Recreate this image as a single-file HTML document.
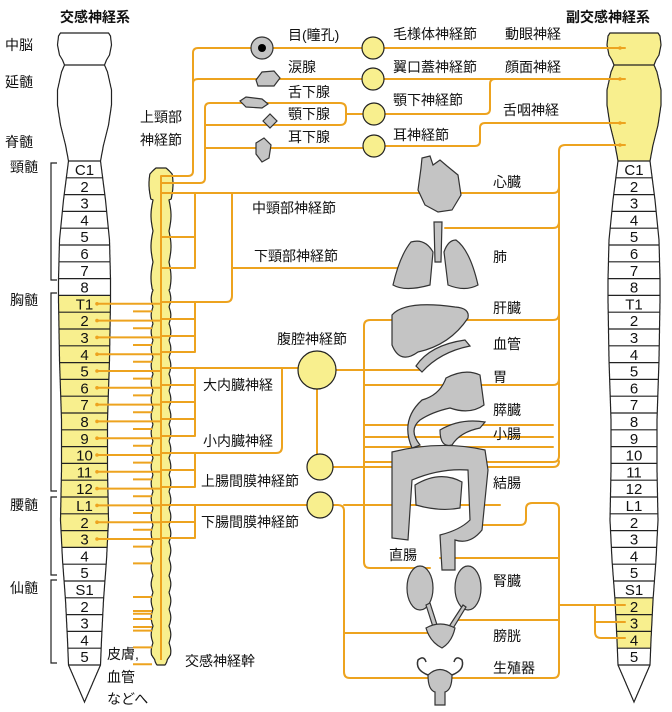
<!DOCTYPE html>
<html><head><meta charset="utf-8">
<style>
html,body{margin:0;padding:0;background:#fff;}
svg{display:block;}
text{font-family:"Liberation Sans","Noto Sans CJK JP",sans-serif;fill:#111;}
.l{font-size:14px;}
.o{fill:none;stroke:#eda31f;stroke-width:2;stroke-linejoin:round;stroke-linecap:round;}
.g{fill:#c4c4c4;stroke:#333;stroke-width:1.2;}
.gc{fill:#f8ef8e;stroke:#222;stroke-width:1.2;}
</style></head><body>
<svg id="s" width="672" height="712" viewBox="0 0 672 712" xmlns="http://www.w3.org/2000/svg">
<rect width="672" height="712" fill="#fff"/>
<g id="spines"></g>
<g id="trunk"></g>
<g class="o">
<path d="M161 176 H188 Q193 176 193 171 V53 Q193 48 198 48 H251"/>
<path d="M273 48 H362 M384 48 H625"/>
<path d="M193 83 Q193 79 198 79 H362 M384 79 H625"/>
<path d="M161 183 H200 Q205 183 205 178 V108 Q205 103 210 103 H340 Q346 103 346 109 V119 Q346 125 340 125 H205"/>
<path d="M205 148 H362 M385 146 H475 Q480 146 480 141 V128 Q480 123 485 123 H625"/>
<path d="M346 114 H362 M385 114 H485 Q490 114 490 109 V84 Q490 79 495 79"/>
<path d="M625 145 H565 Q559 145 559 151 V456 Q559 462 553 462 H364"/>
<path d="M161 193 H553 Q559 193 559 187"/>
<path d="M445 228 H553 Q559 228 559 222"/>
<path d="M161 237 H195 M161 268 H195 M195 193 V268"/>
<path d="M232 193 V296 Q232 302 226 302 H161 M232 268 H405"/>
<path d="M161 319 H195 M161 336 H195 M161 352 H195 M195 302 V352"/>
<path d="M161 368 H298 M161 385 H195 M161 402 H195 M161 419 H195 M161 436 H195 M195 368 V436"/>
<path d="M161 453 H276 Q282 453 282 447 V368"/>
<path d="M161 470 H195 M161 487 H195 M195 453 V487"/>
<path d="M161 505 H307 M161 522 H195 M161 538 H195 M195 505 V538"/>
<path d="M317 389 V454 M336 370 H420 M333 467 H553 Q559 467 559 461"/>
<path d="M370 320 H553 Q559 320 559 314 M364 326 Q364 320 370 320"/>
<path d="M364 326 V562 Q364 568 370 568 H430"/>
<path d="M364 385 H553 Q559 385 559 379 M364 425 H553 M364 437 H553 M364 447 H553"/>
<path d="M333 505 H338 Q344 505 344 511 V672 Q344 678 350 678 H553 Q559 678 559 672 V509 Q559 503 553 503"/>
<path d="M344 505 H500 M553 503 H532 Q526 503 526 509 V519 Q526 525 520 525 H480"/>
<path d="M559 558 H440 M559 620 H455 M344 633 H440"/>
<path d="M559 605 H625 M595 605 V632 Q595 638 601 638 H625 M595 622 H625"/>
</g>
<g class="gc">
<circle cx="373" cy="48" r="11"/><circle cx="373" cy="79" r="11"/><circle cx="374" cy="114" r="11"/><circle cx="374" cy="146" r="11"/>
<circle cx="317" cy="370" r="19"/><circle cx="320" cy="467" r="13"/><circle cx="320" cy="505" r="13"/>
</g>
<g class="g">
<circle cx="262" cy="48" r="11"/>
<path d="M256 80 L262 72 L274 71 L280 78 L274 86 L258 86 Z"/>
<path d="M240 101 L246 97 L262 99 L268 104 L262 108 L246 107 Z"/>
<path d="M263 121 L270 114 L277 121 L270 128 Z"/>
<path d="M256 143 L264 138 L271 145 L269 158 L262 162 L256 154 Z"/>
<path d="M421 168 L422 158 L430 156 L433 165 L440 160 L447 166 L458 175 L461 195 L452 210 L438 212 L425 205 L418 190 Z"/>
<path d="M411 242 Q400 255 393 285 Q405 292 430 285 L433 252 Q425 238 411 242 Z"/>
<path d="M456 240 Q470 250 478 285 Q465 292 448 285 L444 252 Q448 240 456 240 Z"/>
<path d="M434 222 L442 222 L441 262 L435 262 Z"/>
<path d="M392 315 Q405 300 455 307 Q470 308 468 318 Q450 345 418 352 Q400 365 392 345 Z"/>
<path d="M416 366 Q430 345 465 340 L470 346 Q440 352 422 372 Z"/>
<path d="M446 378 Q465 368 480 375 L484 405 Q470 415 450 408 Q432 412 420 420 Q408 430 420 445 L412 448 Q400 420 422 400 Q440 395 446 378 Z"/>
<path d="M440 430 Q460 418 485 422 L480 428 Q460 432 452 445 Q440 448 440 430 Z"/>
<path d="M392 452 Q440 440 485 450 L488 470 L482 530 Q470 545 455 540 L455 570 L442 570 L440 535 Q460 530 470 520 L468 470 Q440 468 412 480 L408 540 L392 538 Z"/>
<path d="M415 485 Q440 470 462 482 L460 508 Q440 512 416 505 Z"/>
<ellipse cx="420" cy="588" rx="13" ry="22"/><ellipse cx="468" cy="588" rx="13" ry="22"/>
<path d="M426 605 L434 630 L438 628 L430 603 Z M463 605 L448 628 L452 630 L466 607 Z"/>
<path d="M426 628 Q440 620 455 628 Q452 642 442 648 Q430 642 426 628 Z"/>
<path d="M428 675 Q440 664 452 675 Q452 690 445 692 L445 705 L435 705 L435 692 Q428 690 428 675 Z"/>
</g>
<circle cx="262" cy="48" r="4" fill="#000"/>
<g fill="none" stroke="#333" stroke-width="1.5"><path d="M428 675 Q415 670 418 660 Q424 655 426 662"/><path d="M452 675 Q465 670 462 660 Q456 655 454 662"/></g>
<g class="l">
<text x="60" y="22" font-weight="bold">交感神経系</text>
<text x="566" y="22" font-weight="bold">副交感神経系</text>
<text x="5" y="50">中脳</text><text x="5" y="87">延髄</text><text x="5" y="147">脊髄</text>
<text x="10" y="172">頸髄</text><text x="10" y="305">胸髄</text><text x="10" y="510">腰髄</text><text x="10" y="593">仙髄</text>
<text x="140" y="122">上頸部</text><text x="140" y="145">神経節</text>
<text x="288" y="40">目(瞳孔)</text><text x="288" y="72">涙腺</text><text x="288" y="97">舌下腺</text><text x="288" y="119">顎下腺</text><text x="288" y="142">耳下腺</text>
<text x="393" y="39">毛様体神経節</text><text x="393" y="72">翼口蓋神経節</text><text x="393" y="105">顎下神経節</text><text x="393" y="140">耳神経節</text>
<text x="505" y="39">動眼神経</text><text x="505" y="72">顔面神経</text><text x="503" y="115">舌咽神経</text>
<text x="252" y="213">中頸部神経節</text><text x="254" y="261">下頸部神経節</text>
<text x="277" y="344">腹腔神経節</text><text x="203" y="390">大内臓神経</text><text x="203" y="446">小内臓神経</text>
<text x="201" y="486">上腸間膜神経節</text><text x="201" y="527">下腸間膜神経節</text>
<text x="185" y="666">交感神経幹</text>
<text x="107" y="659">皮膚,</text><text x="107" y="682">血管</text><text x="107" y="704">などへ</text>
<text x="493" y="187">心臓</text><text x="493" y="262">肺</text><text x="493" y="313">肝臓</text><text x="493" y="349">血管</text>
<text x="493" y="382">胃</text><text x="493" y="415">膵臓</text><text x="493" y="439">小腸</text><text x="493" y="488">結腸</text>
<text x="389" y="560">直腸</text><text x="493" y="586">腎臓</text><text x="493" y="641">膀胱</text><text x="493" y="673">生殖器</text>
</g>
</svg>
<script>
var NS="http://www.w3.org/2000/svg";
function el(t,a,p){var e=document.createElementNS(NS,t);for(var k in a)e.setAttribute(k,a[k]);p.appendChild(e);return e;}
var P=[[33,24],[36,26],[45,27],[55,25],[60,22],[65,20],[72,23],[90,27],[105,27],[125,24],[145,19],[161,16],[200,21],[240,25],[280,26],[300,26],[360,25],[420,23],[470,23],[520,24],[560,22],[600,19],[640,17],[665,16],[702,0]];
function hw(y){for(var i=0;i<P.length-1;i++){if(y>=P[i][0]&&y<=P[i+1][0]){var t=(y-P[i][0])/(P[i+1][0]-P[i][0]);return P[i][1]+(P[i+1][1]-P[i][1])*t;}}return 0;}
var sp=document.getElementById("spines");
var R=16.8,Y0=161;
var labs=["C1","2","3","4","5","6","7","8","T1","2","3","4","5","6","7","8","9","10","11","12","L1","2","3","4","5","S1","2","3","4","5"];
function spine(cx,yellowTop,yellowRows){
 var l=[],r=[];for(var y=33;y<=702;y+=1){l.push((cx-hw(y)).toFixed(1)+" "+y);r.unshift((cx+hw(y)).toFixed(1)+" "+y);}
 var d="M"+l.join(" L")+" L"+r.join(" L")+" Z";
 el("path",{d:d,fill:"#fff",stroke:"none"},sp);
 if(yellowTop){var l2=[],r2=[];for(var y=33;y<=161;y++){l2.push((cx-hw(y)).toFixed(1)+" "+y);r2.unshift((cx+hw(y)).toFixed(1)+" "+y);}
  el("path",{d:"M"+l2.join(" L")+" L"+r2.join(" L")+" Z",fill:"#f8ef8e"},sp);}
 yellowRows.forEach(function(i){var a=Y0+i*R,b=a+R;el("path",{d:"M"+(cx-hw(a))+" "+a+" L"+(cx+hw(a))+" "+a+" L"+(cx+hw(b))+" "+b+" L"+(cx-hw(b))+" "+b+" Z",fill:"#f8ef8e"},sp);});
 el("path",{d:d,fill:"none",stroke:"#222","stroke-width":1.2},sp);
 el("line",{x1:cx-hw(65),y1:65,x2:cx+hw(65),y2:65,stroke:"#222","stroke-width":1.2},sp);
 for(var i=0;i<=30;i++){var y=Y0+i*R;el("line",{x1:cx-hw(y),y1:y,x2:cx+hw(y),y2:y,stroke:"#222","stroke-width":1.2},sp);}
 for(var i=0;i<30;i++){var t=el("text",{x:cx,y:Y0+i*R+14,"text-anchor":"middle","font-size":"15"},sp);t.textContent=labs[i];}
}
var yl=[];for(var i=8;i<=22;i++)yl.push(i);
spine(84.5,false,yl);
spine(634,true,[26,27,28]);
[48,79,123,145].forEach(function(y){el("circle",{cx:620,cy:y,r:1.8,fill:"#eda31f"},sp);});
[[163,280],[293,491],[497,575],[580,663]].forEach(function(b){el("path",{d:"M57 "+b[0]+" H51 V"+b[1]+" H57",fill:"none",stroke:"#222","stroke-width":1.2},sp);});
var tr=document.getElementById("trunk");
var L=[],Rr=[];
for(var y=168;y<=665;y+=1){var w;
 if(y<200)w=10+Math.sin((y-168)/32*Math.PI)*2;
 else if(y<290)w=8+2*Math.abs(Math.sin((y-200)/31*Math.PI));
 else w=8+1.8*Math.abs(Math.sin((y-290)/16.8*Math.PI));
 if(y<174)w=w*Math.sqrt(Math.max(0,(y-166)/8));
 if(y>655)w=w*Math.sqrt(Math.max(0,(667-y)/12));
 L.push((161-w).toFixed(1)+" "+y);Rr.unshift((161+w).toFixed(1)+" "+y);}
el("path",{d:"M"+L.join(" L")+" L"+Rr.join(" L")+" Z",fill:"#f8ef8e",stroke:"#222","stroke-width":1.2},tr);
el("line",{x1:161,y1:176,x2:161,y2:660,stroke:"#eda31f","stroke-width":2},tr);
for(var i=8;i<=22;i++){var y=Y0+i*R+8.4;el("line",{x1:97,y1:y,x2:161,y2:y,stroke:"#eda31f","stroke-width":2},tr);el("circle",{cx:97,cy:y,r:1.8,fill:"#eda31f"},tr);}
for(var i=8;i<=29;i++){if(i==24)continue;var y=Y0+i*R+16;el("line",{x1:133,y1:y,x2:152,y2:y,stroke:"#eda31f","stroke-width":2},tr);}
[611,619,627].forEach(function(y){el("line",{x1:133,y1:y,x2:152,y2:y,stroke:"#eda31f","stroke-width":2},tr);});
</script>
</body></html>
